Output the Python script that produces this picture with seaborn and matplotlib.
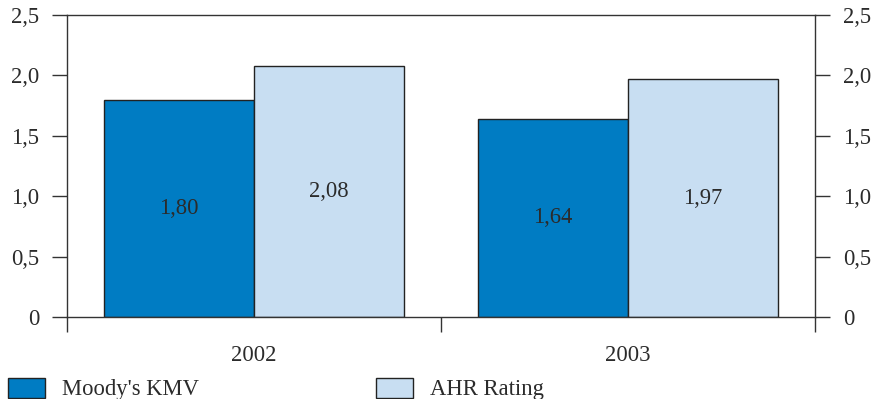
"""Moody's KMV vs AHR Rating, grouped bars by year."""
import matplotlib
matplotlib.use('Agg')
import matplotlib.pyplot as plt
from matplotlib.patches import Patch
import pandas as pd
import seaborn as sns

years = ['2002', '2003']
kmv = [1.80, 1.64]
ahr = [2.08, 1.97]
series = ["Moody's KMV", 'AHR Rating']
colors = ['#007cc3', '#c8def2']
yticks = [0, 0.5, 1.0, 1.5, 2.0, 2.5]
ytick_labels = ['0', '0,5', '1,0', '1,5', '2,0', '2,5']

df = pd.DataFrame({
    'year': years * 2,
    'value': kmv + ahr,
    'series': [series[0]] * len(years) + [series[1]] * len(years),
})

sns.set_style('ticks')
plt.rcParams['font.family'] = ['Liberation Serif', 'DejaVu Serif']
text_color = '#2b2b2b'
line_color = '#333333'
fs = 16.3

fig = plt.figure(figsize=(8.71, 3.99), dpi=100)
ax = fig.add_axes([67 / 871, 82 / 399, 748 / 871, 302 / 399])

sns.barplot(data=df, x='year', y='value', hue='series', palette=colors,
            edgecolor='#222222', linewidth=1, saturation=1, ax=ax,
            legend=False)

for cont in ax.containers:
    ax.bar_label(cont, labels=[('%.2f' % v).replace('.', ',') for v in cont.datavalues],
                 label_type='center', fontsize=fs, color=text_color)

ax.set_ylim(0, 2.5)
ax.set_xlim(-0.5, len(years) - 0.5)
ax.set_yticks(yticks)
ax.set_yticklabels(ytick_labels)
ax.set_xlabel('')
ax.set_ylabel('')

# category boundaries as x ticks, years as labels without marks
ax.set_xticks([i - 0.5 for i in range(len(years) + 1)], minor=True)
ax.tick_params(axis='x', which='minor', length=11, width=1, color=line_color,
               direction='out')
ax.tick_params(axis='x', which='major', length=0, pad=20, labelsize=fs,
               labelcolor=text_color)
ax.tick_params(axis='y', which='major', length=11, width=1, color=line_color,
               direction='out', left=True, right=True, labelleft=True,
               labelright=True, labelsize=fs, labelcolor=text_color, pad=9)
for s in ax.spines.values():
    s.set_visible(True)
    s.set_color(line_color)
    s.set_linewidth(1)

handles = [Patch(facecolor=c, edgecolor='#222222', linewidth=1) for c in colors]
fig.legend(handles, series, loc='lower left', bbox_to_anchor=(8 / 871, -1.5 / 399),
           ncol=2, frameon=False, fontsize=fs, handlelength=1.65,
           handleheight=0.98, handletextpad=0.72, columnspacing=7.83,
           labelcolor=text_color, borderaxespad=0, borderpad=0)

fig.savefig('out.png', dpi=100)
